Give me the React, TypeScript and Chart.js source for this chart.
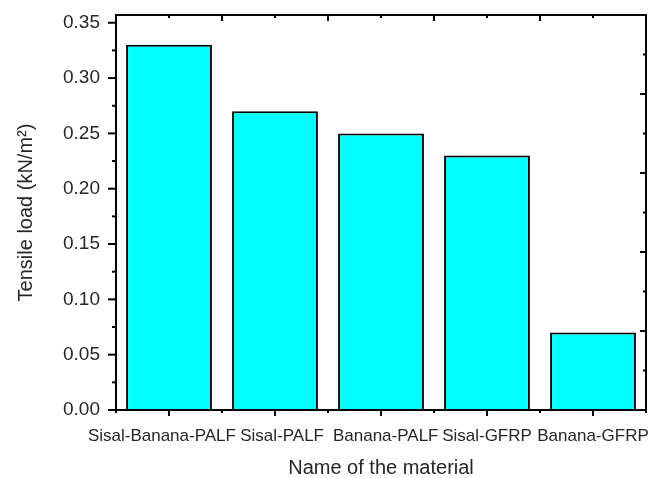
import React, { useEffect, useRef } from "react";
import { Chart, registerables } from "chart.js";

Chart.register(...registerables);

// ---- data ----
const CATEGORIES = ["Sisal-Banana-PALF", "Sisal-PALF", "Banana-PALF", "Sisal-GFRP", "Banana-GFRP"];
const TENSILE_LOAD = [0.33, 0.27, 0.25, 0.23, 0.07];
const Y_TICKS = [0, 0.05, 0.1, 0.15, 0.2, 0.25, 0.3, 0.35];
const Y_MIN = 0;
const Y_MAX = 0.357;
const X_TITLE = "Name of the material";
const Y_TITLE = "Tensile load (kN/m\u00B2)";

// ---- style ----
const FONT = "'Liberation Sans', Arial, Helvetica, sans-serif";
const TEXT = "#262626";
// small horizontal nudges of the category labels (in spaces), to mimic the original spacing
const LABEL_PAD_LEFT = [0, 3, 2, 0, 0];
const LABEL_PAD_RIGHT = [3, 0, 0, 0, 0];

const noPad = (s: any) => {
  s.paddingTop = 0;
  s.paddingBottom = 0;
  s.paddingLeft = 0;
  s.paddingRight = 0;
};

const frameTicks = {
  id: "frameTicks",
  afterDatasetsDraw(chart: any) {
    const { ctx, chartArea: a, scales } = chart;
    const xs = scales.x;
    const ys = scales.y;
    ctx.save();
    ctx.strokeStyle = "#000";
    ctx.lineWidth = 2;
    ctx.lineCap = "butt";
    const line = (x1: number, y1: number, x2: number, y2: number) => {
      ctx.beginPath();
      ctx.moveTo(x1, y1);
      ctx.lineTo(x2, y2);
      ctx.stroke();
    };
    // left axis: outward ticks
    Y_TICKS.forEach((v, i) => {
      const py = ys.getPixelForValue(v);
      line(a.left - 8, py, a.left, py);
      if (i < Y_TICKS.length - 1) {
        const pm = ys.getPixelForValue((v + Y_TICKS[i + 1]) / 2);
        line(a.left - 4, pm, a.left, pm);
      }
    });
    const n = CATEGORIES.length;
    // bottom / top ticks
    for (let i = 0; i < n; i++) {
      const px = xs.getPixelForValue(i);
      line(px, a.bottom, px, a.bottom + 6);
      line(px, a.top, px, a.top + 3);
    }
    for (let i = 0; i <= n; i++) {
      const pb = xs.getPixelForValue(i - 0.5);
      line(pb, a.bottom, pb, a.bottom + 3);
      line(pb, a.top, pb, a.top + 6);
    }
    // right axis: inward ticks, 5 major divisions
    for (let k = 0; k <= 10; k++) {
      const py = a.bottom - ((a.bottom - a.top) * k) / 10;
      const len = k % 2 === 0 ? 6 : 3;
      line(a.right - len, py, a.right, py);
    }
    // frame
    ctx.strokeRect(a.left, a.top, a.right - a.left, a.bottom - a.top);
    ctx.restore();
  },
};

export default function App() {
  const ref = useRef<HTMLCanvasElement | null>(null);

  useEffect(() => {
    if (!ref.current) return;
    const chart = new Chart(ref.current, {
      type: "bar",
      data: {
        labels: CATEGORIES,
        datasets: [
          {
            data: TENSILE_LOAD,
            backgroundColor: "#00FFFF",
            borderColor: "#000000",
            borderWidth: 2,
            barPercentage: 0.81,
            categoryPercentage: 1,
          },
        ],
      },
      options: {
        responsive: false,
        maintainAspectRatio: false,
        animation: false,
        devicePixelRatio: 1,
        layout: { padding: { top: 15, right: 7, left: 0, bottom: 0 } },
        plugins: {
          legend: { display: false },
          tooltip: { enabled: false },
        },
        scales: {
          x: {
            type: "category",
            offset: true,
            grid: { display: false, drawTicks: false },
            border: { display: false },
            ticks: {
              color: TEXT,
              font: { family: FONT, size: 17 },
              padding: 16.5,
              maxRotation: 0,
              minRotation: 0,
              autoSkip: false,
              callback: (_v: any, i: number) =>
                " ".repeat(LABEL_PAD_LEFT[i] || 0) + CATEGORIES[i] + " ".repeat(LABEL_PAD_RIGHT[i] || 0),
            },
            title: {
              display: true,
              text: X_TITLE,
              color: TEXT,
              font: { family: FONT, size: 20, lineHeight: 1 },
              padding: { top: 0, bottom: 0 },
            },
            afterFit: (s: any) => {
              s.height = 68;
              noPad(s);
            },
          },
          y: {
            min: Y_MIN,
            max: Y_MAX,
            grid: { display: false, drawTicks: false },
            border: { display: false },
            afterBuildTicks: (s: any) => {
              s.ticks = Y_TICKS.map((v) => ({ value: v }));
            },
            ticks: {
              color: TEXT,
              font: { family: FONT, size: 19 },
              padding: 16,
              callback: (v: any) => Number(v).toFixed(2),
            },
            title: {
              display: true,
              text: Y_TITLE,
              color: TEXT,
              font: { family: FONT, size: 20, lineHeight: 1 },
              padding: { top: 16, bottom: 0 },
            },
            afterFit: (s: any) => {
              s.width = 116;
              noPad(s);
            },
          },
        },
      },
      plugins: [frameTicks],
    } as any);
    return () => chart.destroy();
  }, []);

  return (
    <div style={{ position: "absolute", left: 0, top: 0, width: 653, height: 478 }}>
      <canvas ref={ref} width={653} height={478} style={{ width: 653, height: 478 }} />
    </div>
  );
}
